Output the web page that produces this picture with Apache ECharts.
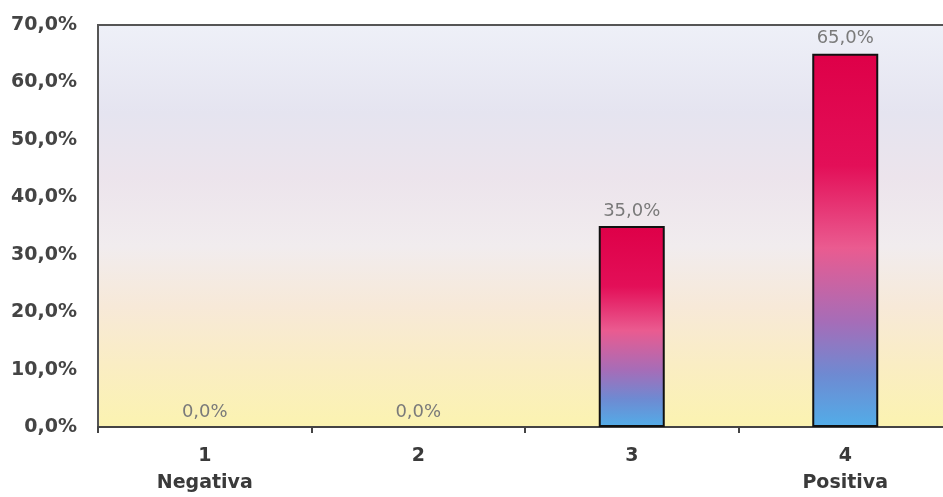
<!DOCTYPE html>
<html><head><meta charset="utf-8">
<script src="https://cdn.jsdelivr.net/npm/echarts@6/dist/echarts.min.js"></script>
<style>html,body{margin:0;padding:0;overflow:hidden;background:#fff}#c{width:952px;height:497px}</style>
</head><body><div id="c"></div>
<script>
const categories = ['1\nNegativa', '2', '3', '4\nPositiva'];
const values = [0.0, 0.0, 35.0, 65.0];
const yTicks = [0, 10, 20, 30, 40, 50, 60, 70];

const chart = echarts.init(document.getElementById('c'));
const fmt = v => v.toFixed(1).replace('.', ',') + '%';
chart.setOption({
  animation: false,
  grid: {
    left: 98, right: 0, top: 25, bottom: 69,
    show: true, borderColor: '#555', borderWidth: 2,
    backgroundColor: {
      type: 'linear', x: 0, y: 0, x2: 0, y2: 1,
      colorStops: [
        {offset: 0, color: '#eef0f8'},
        {offset: 0.22, color: '#e5e4f0'},
        {offset: 0.38, color: '#ece4ec'},
        {offset: 0.55, color: '#f1ecee'},
        {offset: 0.7, color: '#f7e9d8'},
        {offset: 0.84, color: '#faedc4'},
        {offset: 1, color: '#fbf3b0'}
      ]
    }
  },
  xAxis: {
    type: 'category', data: categories,
    axisLine: {lineStyle: {color: '#444', width: 2}},
    axisTick: {show: true, alignWithLabel: false, length: 6, lineStyle: {color: '#444', width: 2}},
    axisLabel: {color: '#3a3a3a', fontSize: 19, fontWeight: 'bold', fontFamily: 'DejaVu Sans', lineHeight: 27, margin: 16}
  },
  yAxis: {
    type: 'value', min: 0, max: 70, interval: 10,
    splitLine: {show: false},
    axisLine: {show: false},
    axisTick: {show: false},
    axisLabel: {
      color: '#444', fontSize: 19, fontWeight: 'bold', fontFamily: 'DejaVu Sans', margin: 21,
      formatter: v => yTicks.includes(v) ? fmt(v) : ''
    }
  },
  series: [{
    type: 'bar',
    data: values.map(v => ({value: v, itemStyle: v === 0 ? {borderWidth: 0} : {}})),
    barWidth: 66,
    itemStyle: {
      borderColor: '#111', borderWidth: 2,
      color: {
        type: 'linear', x: 0, y: 0, x2: 0, y2: 1,
        colorStops: [
          {offset: 0, color: '#de0048'},
          {offset: 0.3, color: '#e30f58'},
          {offset: 0.52, color: '#ea5b90'},
          {offset: 0.72, color: '#a56db8'},
          {offset: 0.86, color: '#6e8ad2'},
          {offset: 1, color: '#52ade8'}
        ]
      }
    },
    label: {
      show: true, position: 'top', distance: 6,
      color: '#7a7a7a', fontSize: 18, fontFamily: 'DejaVu Sans',
      formatter: p => fmt(p.value)
    }
  }]
});
</script></body></html>
